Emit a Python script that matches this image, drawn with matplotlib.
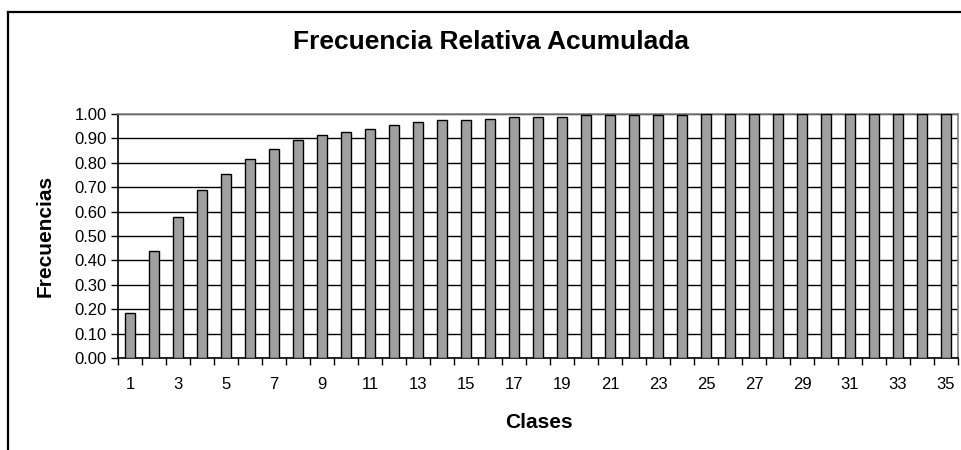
import matplotlib
matplotlib.use('Agg')
import matplotlib.pyplot as plt
from matplotlib.lines import Line2D
from matplotlib.ticker import FixedLocator, FormatStrFormatter

# ---- data ----
clases = list(range(1, 36))
frecuencia = [0.186, 0.439, 0.576, 0.687, 0.755, 0.817, 0.858, 0.892, 0.912,
              0.926, 0.940, 0.955, 0.967, 0.974, 0.974, 0.981, 0.988, 0.988,
              0.988, 0.995, 0.995, 0.995, 0.995, 0.995, 1.0, 1.0, 1.0, 1.0,
              1.0, 1.0, 1.0, 1.0, 1.0, 1.0, 1.0]
x_labels = [str(c) for c in clases[::2]]
y_ticks = [0.0, 0.1, 0.2, 0.3, 0.4, 0.5, 0.6, 0.7, 0.8, 0.9, 1.0]

title = "Frecuencia Relativa Acumulada"
xlabel = "Clases"
ylabel = "Frecuencias"

plt.rcParams['font.family'] = ['Liberation Sans', 'DejaVu Sans']

W, H = 961, 450
fig = plt.figure(figsize=(W / 100, H / 100), dpi=100)

# chart frame (cropped at right / bottom)
fig.add_artist(Line2D([8 / W, 1.0], [1 - 12 / H, 1 - 12 / H], color='black', lw=1.6))
fig.add_artist(Line2D([8 / W, 8 / W], [0.0, 1 - 12 / H], color='black', lw=1.6))

left, right, top, bottom = 118, 958, 114, 358
ax = fig.add_axes([left / W, 1 - bottom / H, (right - left) / W, (bottom - top) / H])

ax.bar(clases, frecuencia, width=0.44, color='#a0a0a0', edgecolor='black',
       linewidth=1.0, zorder=3)

ax.set_xlim(0.5, 35.5)
ax.set_ylim(0, 1.0)

ax.set_yticks(y_ticks)
ax.yaxis.set_major_formatter(FormatStrFormatter('%.2f'))
ax.yaxis.grid(True, color='black', linewidth=1.0, zorder=0)
ax.set_axisbelow(True)

# x ticks at category boundaries, labels at odd categories
ax.xaxis.set_major_locator(FixedLocator([c + 0.5 for c in [0] + clases]))
ax.xaxis.set_major_formatter(plt.NullFormatter())
ax.xaxis.set_minor_locator(FixedLocator(clases[::2]))
ax.set_xticklabels(x_labels, minor=True)
ax.tick_params(axis='x', which='major', direction='out', length=5, width=1, color='black')
ax.tick_params(axis='x', which='minor', length=0, pad=14, labelsize=12)
ax.tick_params(axis='y', direction='out', length=5, width=1, labelsize=12, pad=3)

for s in ['left', 'bottom']:
    ax.spines[s].set_color('black')
    ax.spines[s].set_linewidth(1.2)
for s in ['top', 'right']:
    ax.spines[s].set_color('#808080')
    ax.spines[s].set_linewidth(1.2)

fig.text(491 / W, 1 - 42 / H, title, ha='center', va='center',
         fontsize=19, fontweight='bold')
fig.text(539 / W, 1 - 422 / H, xlabel, ha='center', va='center',
         fontsize=15, fontweight='bold')
fig.text(45 / W, 1 - 236 / H, ylabel, ha='center', va='center',
         fontsize=15, fontweight='bold', rotation=90)

fig.savefig('out.png', dpi=100)
